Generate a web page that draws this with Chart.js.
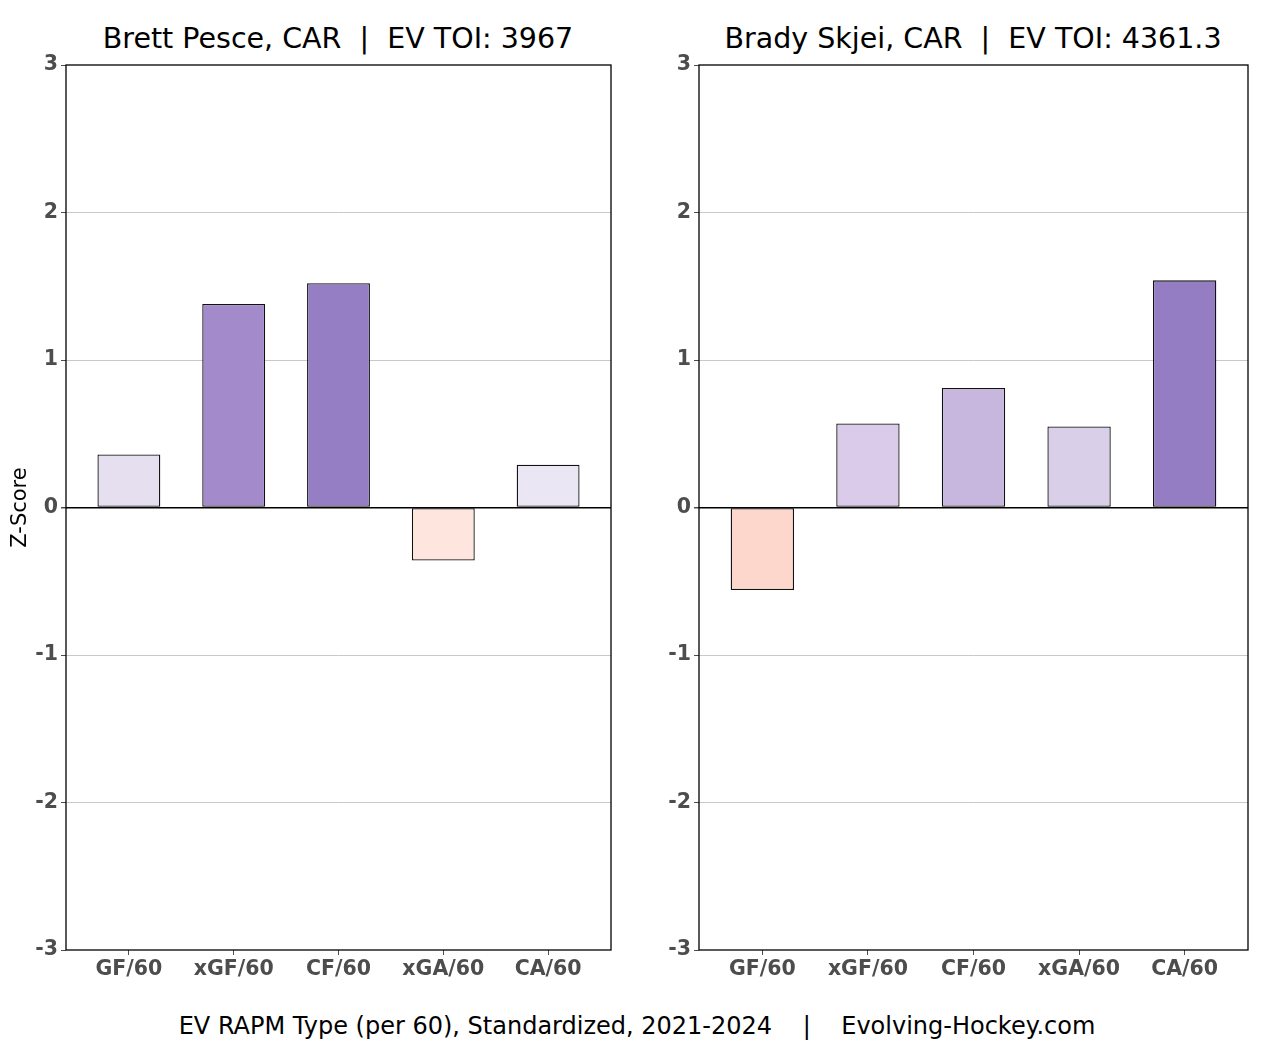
<!DOCTYPE html>
<html>
<head>
<meta charset="utf-8">
<script src="https://cdn.jsdelivr.net/npm/chart.js@4.4.0/dist/chart.umd.min.js"></script>
<style>
    body { margin: 0; background: #fff; }
    #page { position: relative; width: 1275px; height: 1050px; background: #fff; font-family: 'DejaVu Sans', sans-serif; }
    canvas { position: absolute; top: 0; }
    .title { position: absolute; top: 22px; font-size: 28.5px; line-height: 33px; color: #000; white-space: pre; transform: translateX(-50%); }
    .caption { position: absolute; top: 1012px; left: 637px; font-size: 24px; line-height: 28px; color: #000; white-space: pre; transform: translateX(-50%); }
</style>
</head>
<body>
<div id="page">
    <div class="title" style="left: 338px;">Brett Pesce, CAR  |  EV TOI: 3967</div>
    <div class="title" style="left: 973px;">Brady Skjei, CAR  |  EV TOI: 4361.3</div>
    <canvas id="leftChart" width="620" height="1000" style="left: 0px;"></canvas>
    <canvas id="rightChart" width="620" height="1000" style="left: 633px;"></canvas>
    <div class="caption">EV RAPM Type (per 60), Standardized, 2021-2024    |    Evolving-Hockey.com</div>
</div>
<script>
const categories = ['GF/60', 'xGF/60', 'CF/60', 'xGA/60', 'CA/60'];
const pesceValues = [0.36, 1.38, 1.52, -0.36, 0.29];
const skjeiValues = [-0.56, 0.57, 0.81, 0.55, 1.54];
const yTicks = [-3, -2, -1, 0, 1, 2, 3];

const pesceColors = ['#e5dff0', '#a28acb', '#967ec4', '#fee6de', '#ebe6f3'];
const skjeiColors = ['#fed7cc', '#dacbea', '#c7b7df', '#d9cfe8', '#957dc3'];

Chart.defaults.font.family = 'DejaVu Sans';

// black box round the plot area, like the matplotlib frame
const frame = {
    id: 'frame',
    afterDraw(chart) {
        const { ctx, chartArea } = chart;
        ctx.save();
        ctx.strokeStyle = '#000';
        ctx.lineWidth = 1.3;
        ctx.strokeRect(chartArea.left, chartArea.top, chartArea.right - chartArea.left, chartArea.bottom - chartArea.top);
        ctx.restore();
    },
};

function makeChart(id, values, colors, showTitle, padRight) {
    const ctx = document.getElementById(id).getContext('2d');
    return new Chart(ctx, {
        type: 'bar',
        data: {
            datasets: [
                {
                    data: values.map((v, i) => ({ x: i, y: v })),
                    backgroundColor: colors,
                    borderColor: '#111',
                    borderWidth: 1.3,
                    borderSkipped: false,
                    barPercentage: 0.6,
                    categoryPercentage: 1,
                },
            ],
        },
        options: {
            responsive: false,
            animation: false,
            layout: { padding: { top: 65, right: padRight, bottom: 0, left: 0 } },
            plugins: { legend: { display: false }, tooltip: { enabled: false } },
            scales: {
                x: {
                    type: 'linear',
                    min: -0.6,
                    max: 4.6,
                    offset: false,
                    afterBuildTicks: (scale) => {
                        scale.ticks = categories.map((c, i) => ({ value: i }));
                    },
                    afterFit: (scale) => { scale.height = 50; },
                    grid: { offset: false, drawOnChartArea: false, drawTicks: true, tickLength: 5, color: '#4d4d4d' },
                    border: { display: false },
                    ticks: {
                        padding: 2,
                        color: '#4d4d4d',
                        font: { size: 20.5, weight: 'bold' },
                        callback: (value) => categories[value],
                    },
                },
                y: {
                    min: -3,
                    max: 3,
                    afterBuildTicks: (scale) => {
                        scale.ticks = yTicks.map((v) => ({ value: v }));
                    },
                    afterFit: (scale) => { scale.width = 66; },
                    grid: {
                        color: (c) => (c.tick.value === 0 ? '#000' : Math.abs(c.tick.value) === 3 ? 'rgba(0,0,0,0)' : '#c8c8c8'),
                        lineWidth: (c) => (c.tick.value === 0 ? 1.5 : 1),
                        tickColor: '#4d4d4d',
                        drawTicks: true,
                        tickLength: 5,
                    },
                    border: { display: false },
                    ticks: {
                        padding: 3,
                        color: '#4d4d4d',
                        font: { size: 20.5, weight: 'bold' },
                    },
                    title: {
                        display: showTitle,
                        text: 'Z-Score',
                        color: '#000',
                        font: { size: 21 },
                        padding: { top: 8, bottom: 0 },
                    },
                },
            },
        },
        plugins: [frame],
    });
}

makeChart('leftChart', pesceValues, pesceColors, true, 9);
makeChart('rightChart', skjeiValues, skjeiColors, false, 5);
</script>
</body>
</html>
